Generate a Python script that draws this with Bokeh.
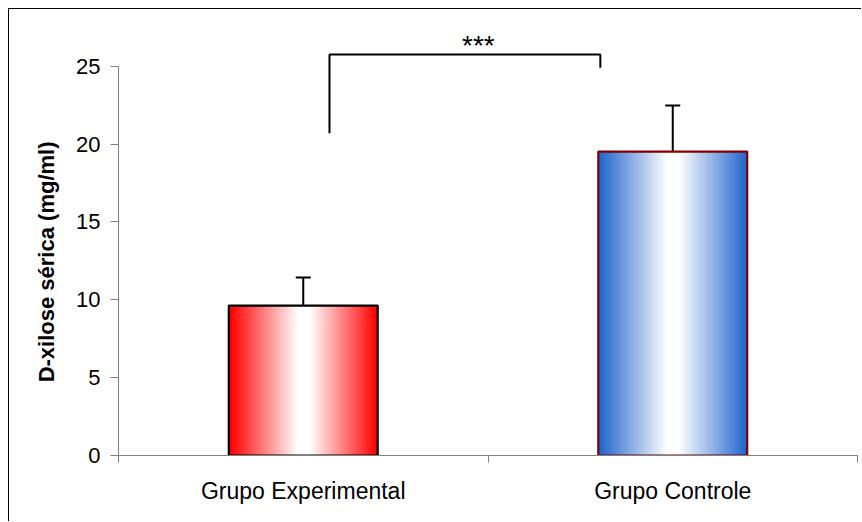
import numpy as np
from bokeh.plotting import figure
from bokeh.models import Range1d, FixedTicker, ColumnDataSource, Whisker, TeeHead
from bokeh.core.properties import value
from bokeh.embed import file_html
from bokeh.resources import INLINE

# ---- data ----
categories = ["Grupo Experimental", "Grupo Controle"]
means = [9.63, 19.52]
errors = [1.80, 2.96]
edge_colors = [(255, 0, 0), (34, 102, 204)]
outline_colors = ["#000000", "#800000"]
y_ticks = [0, 5, 10, 15, 20, 25]
y_label = "D-xilose sérica (mg/ml)"
# significance bracket
sig_x = [0.571, 0.571, 1.304, 1.304]
sig_y = [20.7, 25.75, 25.75, 24.9]
sig_label = "***"
sig_label_x = 0.974
sig_label_y = 26.3

FONT = "Liberation Sans"
bar_width = 0.403
centers = [i + 0.5 for i in range(len(categories))]


def gradient_image(rgb, n=300):
    t = np.abs(np.linspace(-1, 1, n))
    t = np.clip((t - 0.08) / 0.9, 0, 1)
    img = np.zeros((1, n), dtype=np.uint32)
    view = img.view(dtype=np.uint8).reshape((1, n, 4))
    for k in range(3):
        view[0, :, k] = np.round(255 * (1 - t) + rgb[k] * t).astype(np.uint8)
    view[0, :, 3] = 255
    return img


p = figure(width=853, height=513, x_range=Range1d(0, 2), y_range=Range1d(0, 28),
           output_backend="svg", toolbar_location=None,
           min_border_left=109, min_border_right=5, min_border_top=10, min_border_bottom=67)
p.margin = (8, 0, 0, 8)
p.styles = {"border-left": "1px solid #000", "border-top": "1px solid #000"}
p.outline_line_color = None
p.xgrid.visible = False
p.ygrid.visible = False
p.background_fill_color = "white"
p.border_fill_color = "white"

# gradient bars
imgs = [gradient_image(c) for c in edge_colors]
lefts = [c - bar_width / 2 for c in centers]
p.image_rgba(image=imgs, x=lefts, y=[0] * len(means), dw=[bar_width] * len(means), dh=means)

src = ColumnDataSource(dict(x=centers, top=means, upper=[m + e for m, e in zip(means, errors)],
                            line=outline_colors))
p.vbar(x="x", top="top", bottom=0, width=bar_width, source=src, fill_color=None,
       line_color="line", line_width=2.2)

wh = Whisker(source=src, base="x", lower="top", upper="upper", line_color="black", line_width=2,
             lower_head=None, upper_head=TeeHead(size=15, line_width=2, line_color="black"))
p.add_layout(wh)

# significance bracket
p.line(sig_x, sig_y, line_color="black", line_width=2)
p.text(x=[sig_label_x], y=[sig_label_y], text=[sig_label], text_font=value(FONT),
       text_font_size="28px", text_align="center", text_baseline="alphabetic", text_color="black")

# y axis
ya = p.yaxis[0]
ya.ticker = FixedTicker(ticks=y_ticks)
ya.bounds = (0, 25)
ya.axis_line_color = "#808080"
ya.major_tick_line_color = "#808080"
ya.major_tick_out = 8
ya.major_tick_in = 0
ya.minor_tick_line_color = None
ya.major_label_text_font = FONT
ya.major_label_text_font_size = "22px"
ya.major_label_text_color = "black"
ya.major_label_standoff = 10
# trailing no-break spaces shift the title so it is centred on the 0..25 axis line
ya.axis_label = y_label + "\u00a0" * 8
ya.axis_label_text_font = FONT
ya.axis_label_text_font_size = "22px"
ya.axis_label_text_font_style = "bold"
ya.axis_label_text_color = "black"
ya.axis_label_standoff = 14

# x axis
xa = p.xaxis[0]
xa.ticker = FixedTicker(ticks=centers, minor_ticks=[0, 1, 2])
xa.major_label_overrides = {c: name for c, name in zip(centers, categories)}
xa.axis_line_color = "#808080"
xa.major_tick_out = 0
xa.major_tick_in = 0
xa.major_tick_line_color = None
xa.minor_tick_line_color = "#808080"
xa.minor_tick_out = 7
xa.minor_tick_in = 0
xa.major_label_text_font = FONT
xa.major_label_text_font_size = "23px"
xa.major_label_text_color = "black"
xa.major_label_standoff = 15

open("out.html", "w").write(file_html(p, INLINE))
